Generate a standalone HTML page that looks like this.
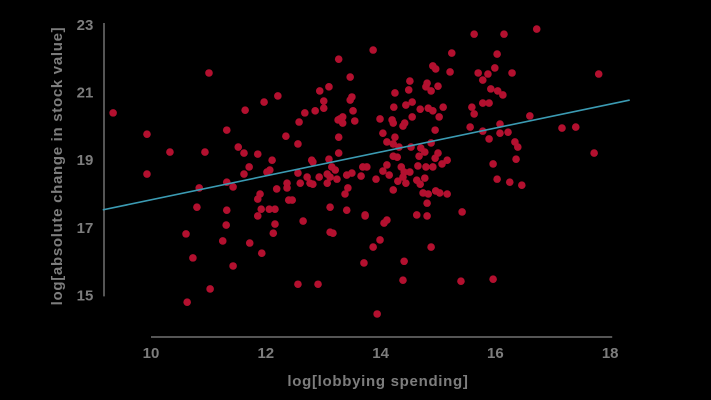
<!DOCTYPE html>
<html><head><meta charset="utf-8"><style>
html,body{margin:0;padding:0;background:#000;}
svg{display:block;}
text{font-family:"Liberation Sans",sans-serif;font-weight:bold;fill:#7d7d7d;}
</style></head>
<body>
<svg id="chart" width="711" height="400" viewBox="0 0 711 400">
<rect width="711" height="400" fill="#000"/>
<g id="axes"></g>
<g id="marks"></g>
</svg>
<script>
const xTicks=[10,12,14,16,18];
const yTicks=[15,17,19,21,23];
const xValues=[9.34,9.93,9.93,10.33,11.01,10.94,10.84,10.80,10.61,10.73,11.03,10.63,11.32,11.32,11.43,11.32,11.31,11.25,11.43,11.64,11.97,12.21,11.52,11.62,11.71,11.62,11.86,12.11,12.02,12.07,11.72,11.93,11.90,11.86,11.92,11.86,12.06,12.16,12.19,12.37,12.37,12.40,12.46,12.16,12.13,12.35,12.56,12.58,12.68,12.86,13.01,13.01,12.94,13.10,13.27,13.47,13.47,13.50,13.52,13.55,13.29,13.26,13.34,13.34,13.27,13.27,13.10,12.80,12.82,12.56,12.60,12.72,12.77,12.82,12.93,13.07,13.07,13.15,13.21,13.12,13.24,13.41,13.50,13.66,13.69,13.76,13.43,13.38,13.12,13.41,13.73,12.65,13.12,13.17,13.71,12.56,12.91,13.87,15.63,16.15,16.72,15.24,16.03,14.91,14.96,15.21,15.70,15.87,15.99,16.29,15.78,14.51,14.81,14.79,15.00,14.49,14.88,14.25,15.92,16.04,16.13,14.55,14.44,14.23,14.69,14.83,14.91,15.09,15.59,15.78,15.89,15.63,13.99,14.20,14.22,14.55,15.02,14.39,14.42,16.60,14.95,15.56,16.08,14.04,14.25,14.11,14.22,14.32,15.78,16.08,16.22,15.89,14.88,14.53,14.70,14.77,14.67,15.00,14.95,15.16,15.07,14.22,14.29,16.34,16.39,14.11,14.04,14.15,14.36,14.41,14.51,14.39,14.65,14.79,14.91,14.63,14.69,14.77,14.30,14.44,13.92,15.96,16.36,16.03,16.25,16.46,14.22,14.74,14.83,14.96,15.03,15.16,14.81,14.63,14.81,13.73,14.11,14.06,15.42,13.99,13.87,14.88,14.41,14.39,15.40,15.96,13.94,17.80,17.16,17.40,17.72];
const yValues=[20.40,19.77,18.59,19.24,21.58,19.24,18.18,17.61,16.82,16.11,15.19,14.80,19.89,18.35,18.21,17.52,17.08,16.61,15.87,20.48,20.72,20.90,19.39,19.21,18.80,18.59,19.18,19.00,18.65,18.71,16.55,16.25,18.00,17.85,17.55,17.35,17.55,17.55,18.15,18.32,18.18,17.82,17.82,17.11,16.84,19.71,19.48,20.13,20.40,20.46,20.54,20.75,21.05,21.17,21.99,21.46,20.78,20.87,20.46,20.16,20.22,20.19,20.28,20.10,19.68,19.21,19.03,19.00,18.95,18.62,18.32,18.50,18.32,18.29,18.50,18.59,18.32,18.80,18.71,18.50,18.44,18.56,18.62,18.53,18.80,18.80,18.18,18.00,17.61,17.52,17.35,17.20,16.87,16.84,15.96,15.33,15.33,22.26,22.73,22.73,22.88,22.17,22.14,21.79,21.70,21.61,21.58,21.55,21.73,21.58,21.37,21.34,21.28,21.17,21.19,21.08,21.05,20.99,21.11,21.05,20.93,20.72,20.63,20.57,20.51,20.54,20.46,20.57,20.57,20.69,20.69,20.37,20.22,20.19,20.10,20.28,20.28,20.01,20.10,20.31,19.89,19.98,20.07,19.80,19.68,19.54,19.48,19.39,19.86,19.80,19.83,19.63,19.51,19.39,19.36,19.24,19.12,19.21,19.06,19.00,18.89,19.12,19.09,19.54,19.39,18.86,18.68,18.56,18.80,18.65,18.65,18.50,18.83,18.80,18.80,18.41,18.29,18.47,18.38,18.32,18.44,18.89,19.03,18.44,18.35,18.26,18.12,18.03,18.00,18.09,18.03,18.00,17.73,17.38,17.35,17.38,17.23,17.14,17.47,16.64,16.43,16.43,16.01,15.45,15.42,15.48,14.45,21.55,19.95,19.98,19.21];
const trendX=[9.16,18.34];
const trendY=[17.53,20.78];

const NS='http://www.w3.org/2000/svg';
function xs(v){return 151+(v-10)*57.4;}
function ys(v){return 25+(23-v)*33.8;}
function mk(tag,attrs,parent){const e=document.createElementNS(NS,tag);for(const k in attrs)e.setAttribute(k,attrs[k]);parent.appendChild(e);return e;}
const axes=document.getElementById('axes');
const marks=document.getElementById('marks');

let yl=mk('line',{x1:104,x2:104,y1:ys(23)-2,y2:ys(15)+1,stroke:'#555',"stroke-width":2},axes);


let xl=mk('line',{x1:xs(10),x2:xs(18)+2,y1:337,y2:337,stroke:'#555',"stroke-width":2},axes);



yTicks.forEach(t=>{
  const e=mk('text',{x:85,y:ys(t)+5,"text-anchor":"middle","font-size":15},axes);
  e.textContent=t;
  
  
});
xTicks.forEach(t=>{
  const e=mk('text',{x:xs(t),y:358,"text-anchor":"middle","font-size":15},axes);
  e.textContent=t;
  
  
});
let xt=mk('text',{x:378,y:386,"text-anchor":"middle","font-size":15,"letter-spacing":"0.7"},axes);
xt.textContent='log[lobbying spending]';


let yt=mk('text',{x:0,y:0,"text-anchor":"middle","font-size":15,"letter-spacing":"0.7",transform:'translate(62,166) rotate(-90)'},axes);
yt.textContent='log[absolute change in stock value]';



for(let i=0;i<xValues.length;i++){
  const c=mk('circle',{cx:xs(xValues[i]),cy:ys(yValues[i]),r:3.8,fill:'#b3102f'},marks);
  
  
}
const tl=mk('line',{x1:xs(trendX[0]),y1:ys(trendY[0]),x2:xs(trendX[1]),y2:ys(trendY[1]),stroke:'#3b9bb3',"stroke-width":1.6},marks);


</script>
</body></html>
